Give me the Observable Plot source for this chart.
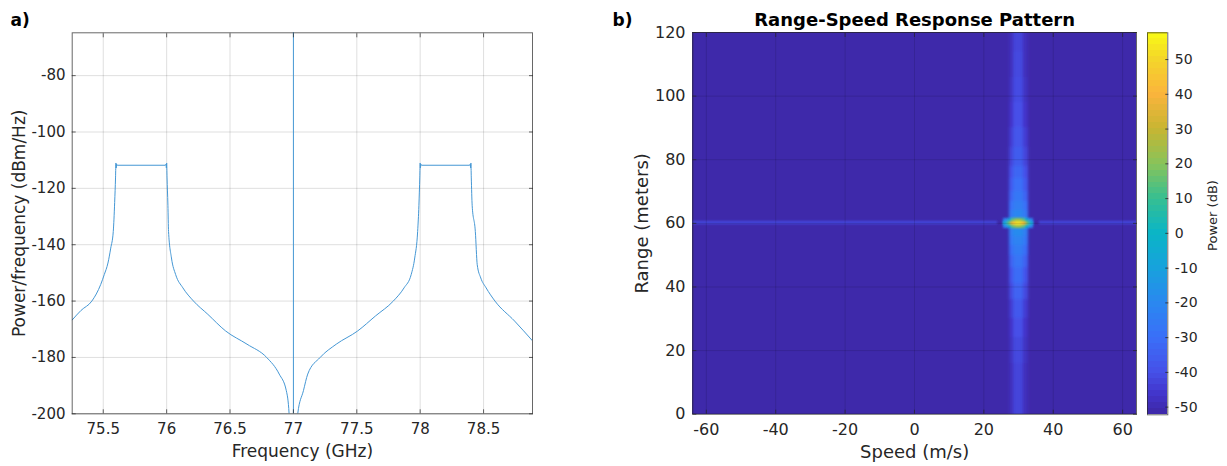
<!DOCTYPE html>
<html>
<head>
<meta charset="utf-8">
<script src="https://cdn.jsdelivr.net/npm/d3@7"></script>
<script src="https://cdn.jsdelivr.net/npm/@observablehq/plot@0.6"></script>
<style>
  html, body { margin: 0; padding: 0; background: #fff; }
  #wrap { position: relative; width: 1227px; height: 466px; overflow: hidden; }
  #wrap svg { position: absolute; top: 0; }
</style>
</head>
<body>
<div id="wrap"></div>
<script>
// ---------- Panel a) power spectral density ----------
const freqGHz = [
  75.255, 75.325, 75.41, 75.48, 75.508, 75.537, 75.559, 75.579, 75.59, 75.597,
  75.6, 75.602, 75.605, 75.61, 75.99, 75.995, 75.998, 76.0, 76.003, 76.01,
  76.015, 76.038, 76.071, 76.128, 76.212, 76.325, 76.465, 76.634, 76.789, 76.888,
  76.944, 76.966, 76.985, 77.015, 77.034, 77.079, 77.113,
  77.211, 77.338, 77.507, 77.647, 77.788, 77.873, 77.929, 77.957, 77.98, 77.99,
  77.997, 78.0, 78.002, 78.005, 78.01, 78.39, 78.395, 78.398, 78.4, 78.403,
  78.41, 78.435, 78.45, 78.478, 78.52, 78.59, 78.745, 78.886
];
const psdDbmHz = [
  -166.7, -163.3, -160, -154.1, -150.6, -146.5, -141.2, -135.3, -125, -116,
  -111.0, -112.8, -111.4, -111.8, -111.8, -111.4, -112.8, -111.0, -116, -126,
  -135.3, -144.7, -150.6, -155.3, -160, -164.7, -170.6, -175.3, -180, -185.9,
  -191.8, -200, -230, -230, -200, -191.8, -185.9,
  -180, -175.3, -170.6, -165.3, -160, -155.3, -150.6, -144.7, -135.3, -126,
  -116, -111.0, -112.8, -111.4, -111.8, -111.8, -111.4, -112.8, -111.0, -116,
  -126, -135.3, -147.1, -151.8, -155.3, -160, -167.1, -174.1
];
// carrier line at 77 GHz (rises above the top of the axes)
const carrierFreqGHz = [77, 77];
const carrierDbmHz = [-230, -40];

const freqDomain = [75.255, 78.886];
const psdDomain = [-200, -64.8];
const freqTicks = [75.5, 76, 76.5, 77, 77.5, 78, 78.5];
const psdTicks = [-200, -180, -160, -140, -120, -100, -80];

// ---------- Panel b) range-speed map ----------
const speedDomain = [-63.9, 64];
const rangeDomain = [0, 120];
const speedTicks = [-60, -40, -20, 0, 20, 40, 60];
const rangeTicks = [0, 20, 40, 60, 80, 100, 120];
const backgroundPower = -51.5;

// vertical stripe of the moving target (speed ~30 m/s)
const stripeCoreSpeed = [28.6, 31.5];
const stripeEdgeSpeed = [27.3, 32.8];
const stripeRangeLo = [0, 8, 16, 24, 30, 36, 41, 46, 50, 53, 56, 58.6, 61.4, 64, 67, 70, 74, 78, 84, 90, 98, 106, 114];
const stripeRangeHi = [8, 16, 24, 30, 36, 41, 46, 50, 53, 56, 58.6, 61.4, 64, 67, 70, 74, 78, 84, 90, 98, 106, 114, 120];
const stripeCorePower = [-43, -43, -42, -40, -37, -34, -31, -28, -25, -22, -19, -16, -21, -24, -27, -30, -33, -36, -38, -40, -41, -42, -43];
const stripeEdgePower = [-49, -49, -48, -47, -45, -42, -39, -35, -31, -27, -24, -21, -26, -30, -34, -37, -40, -43, -45, -47, -48, -49, -49];

// horizontal line at the target range (60 m)
const lineRange = [59.55, 60.45];
const lineSpeedLo = [-63.9, 36.1];
const lineSpeedHi = [23.9, 64];
const linePower = [-42, -42];

// bright target response
const hotSpeedLo = [25.8, 26.8, 27.6, 28.4, 29.2, 30.8, 31.6, 32.4, 33.2];
const hotSpeedHi = [26.8, 27.6, 28.4, 29.2, 30.8, 31.6, 32.4, 33.2, 34.2];
const hotCenterRange = [59.3, 60.7];
const hotCenterPower = [-6, 14, 32, 44, 52, 44, 32, 14, -6];
const hotSideRange = [58.4, 61.6];
const hotSidePower = [-22, -10, 4, 16, 22, 16, 4, -10, -22];

// colour bar (parula-like)
const colorDomain = [-52.2, -47, -40, -30, -20, -10, 0, 10, 20, 30, 40, 50, 57.7];
const colorRange = ["#3D27A5", "#4233C8", "#4650E8", "#3A6FF8", "#2A88F0", "#17A2DC", "#0AB5C6", "#38BF90", "#88C35A", "#C7B532", "#FBB43C", "#F4D62A", "#F9FB15"];
const colorTicks = [-50, -40, -30, -20, -10, 0, 10, 20, 30, 40, 50];

// ---------------------------------------------------------
const FONT = "DejaVu Sans, Verdana, sans-serif";
const INK = "#262626";
const LINE = "#4597D4";
const fmt = d => String(d);
const blank = () => "";

const psdData = freqGHz.map((f, i) => ({f, p: psdDbmHz[i]}));
const carrierData = carrierFreqGHz.map((f, i) => ({f, p: carrierDbmHz[i]}));
// the grid line at the carrier is hidden behind the carrier itself
const freqGrid = freqTicks.filter(t => !carrierFreqGHz.includes(t));

const left = Plot.plot({
  width: 560, height: 466,
  marginLeft: 71.7, marginRight: 28, marginTop: 32.3, marginBottom: 52.7,
  style: {fontFamily: FONT, fontSize: "15px", color: INK, background: "transparent"},
  x: {domain: freqDomain},
  y: {domain: psdDomain},
  marks: [
    Plot.gridX(freqGrid, {stroke: INK, strokeOpacity: 0.15}),
    Plot.gridY(psdTicks, {stroke: INK, strokeOpacity: 0.15}),
    Plot.line(psdData, {x: "f", y: "p", stroke: LINE, strokeWidth: 1, curve: "monotone-x", clip: true}),
    Plot.line(carrierData, {x: "f", y: "p", stroke: LINE, strokeWidth: 1, clip: true}),
    Plot.frame({stroke: INK, strokeOpacity: 0.7}),
    Plot.axisX(freqTicks, {anchor: "bottom", tickSize: -4, tickPadding: 14, tickFormat: fmt, label: null, strokeOpacity: 0.7}),
    Plot.axisX(freqTicks, {anchor: "top", tickSize: -4, tickFormat: blank, label: null, strokeOpacity: 0.7}),
    Plot.axisY(psdTicks, {anchor: "left", tickSize: -4, tickPadding: 10.7, tickFormat: fmt, label: null, strokeOpacity: 0.7}),
    Plot.axisY(psdTicks, {anchor: "right", tickSize: -4, tickFormat: blank, label: null, strokeOpacity: 0.7}),
    Plot.text(["Frequency (GHz)"], {text: d => d, frameAnchor: "bottom", dy: 43.4, lineAnchor: "bottom", textAnchor: "middle", fontSize: 17}),
    Plot.text(["Power/frequency (dBm/Hz)"], {text: d => d, frameAnchor: "left", dx: -46.7, rotate: -90, lineAnchor: "bottom", textAnchor: "middle", fontSize: 17}),
    Plot.text(["a)"], {text: d => d, frameAnchor: "top-left", dx: 10 - 71.7, dy: 25 - 32.3, textAnchor: "start", lineAnchor: "bottom", fontSize: 17, fontWeight: "bold", fill: "#000"})
  ]
});
left.style.left = "0px";

const colorScale = {type: "linear", domain: colorDomain, range: colorRange, interpolate: "rgb", clamp: true};

// cells touching the edge of the map are run past it, so the smoothing does not fade them there
const PAD = 8;
const padLo = (v, dom) => (v <= dom[0] ? v - PAD : v);
const padHi = (v, dom) => (v >= dom[1] ? v + PAD : v);

const bgCells = [{x1: speedDomain[0], x2: speedDomain[1], y1: rangeDomain[0], y2: rangeDomain[1], v: backgroundPower}];
const edgeCells = stripeRangeLo.map((lo, i) => ({x1: stripeEdgeSpeed[0], x2: stripeEdgeSpeed[1], y1: padLo(lo, rangeDomain), y2: padHi(stripeRangeHi[i], rangeDomain), v: stripeEdgePower[i]}));
const coreCells = stripeRangeLo.map((lo, i) => ({x1: stripeCoreSpeed[0], x2: stripeCoreSpeed[1], y1: padLo(lo, rangeDomain), y2: padHi(stripeRangeHi[i], rangeDomain), v: stripeCorePower[i]}));
const lineCells = lineSpeedLo.map((lo, i) => ({x1: padLo(lo, speedDomain), x2: padHi(lineSpeedHi[i], speedDomain), y1: lineRange[0], y2: lineRange[1], v: linePower[i]}));
const hotSideCells = hotSpeedLo.map((lo, i) => ({x1: lo, x2: hotSpeedHi[i], y1: hotSideRange[0], y2: hotSideRange[1], v: hotSidePower[i]}));
const hotCenterCells = hotSpeedLo.map((lo, i) => ({x1: lo, x2: hotSpeedHi[i], y1: hotCenterRange[0], y2: hotCenterRange[1], v: hotCenterPower[i]}));
const cellOpts = {x1: "x1", x2: "x2", y1: "y1", y2: "y2", fill: "v", shapeRendering: "crispEdges"};

const MAP_W = 667, MAP_L = 132.3, MAP_R = 91, MAP_T = 32, MAP_B = 52.3;
const map = Plot.plot({
  width: MAP_W, height: 466,
  marginLeft: MAP_L, marginRight: MAP_R, marginTop: MAP_T, marginBottom: MAP_B,
  style: {fontFamily: FONT, fontSize: "16px", color: INK, background: "transparent"},
  x: {domain: speedDomain},
  y: {domain: rangeDomain},
  color: colorScale,
  marks: [
    Plot.rect(bgCells, cellOpts),
    Plot.rect(edgeCells, cellOpts),
    Plot.rect(coreCells, cellOpts),
    Plot.rect(lineCells, cellOpts),
    Plot.rect(hotSideCells, cellOpts),
    Plot.rect(hotCenterCells, cellOpts),
    Plot.gridX(speedTicks, {stroke: "#000", strokeOpacity: 0.12}),
    Plot.gridY(rangeTicks, {stroke: "#000", strokeOpacity: 0.12}),
    Plot.frame({stroke: INK, strokeOpacity: 0.7}),
    Plot.axisX(speedTicks, {anchor: "bottom", tickSize: -4, tickPadding: 13.3, tickFormat: fmt, label: null, strokeOpacity: 0.7}),
    Plot.axisX(speedTicks, {anchor: "top", tickSize: -4, tickFormat: blank, label: null, strokeOpacity: 0.7}),
    Plot.axisY(rangeTicks, {anchor: "left", tickSize: -4, tickPadding: 11.3, tickFormat: fmt, label: null, strokeOpacity: 0.7}),
    Plot.axisY(rangeTicks, {anchor: "right", tickSize: -4, tickFormat: blank, label: null, strokeOpacity: 0.7}),
    Plot.text(["Speed (m/s)"], {text: d => d, frameAnchor: "bottom", dy: 43.3, lineAnchor: "bottom", textAnchor: "middle", fontSize: 18}),
    Plot.text(["Range (meters)"], {text: d => d, frameAnchor: "left", dx: -44.8, rotate: -90, lineAnchor: "bottom", textAnchor: "middle", fontSize: 18}),
    Plot.text(["Range-Speed Response Pattern"], {text: d => d, frameAnchor: "top", dy: -7, lineAnchor: "bottom", textAnchor: "middle", fontSize: 18, fontWeight: "bold", fill: "#000"}),
    Plot.text(["b)"], {text: d => d, frameAnchor: "top-left", dx: 52 - 132.3, dy: 25 - 32, textAnchor: "start", lineAnchor: "bottom", fontSize: 17, fontWeight: "bold", fill: "#000"})
  ]
});
map.style.left = "560px";

// soften the target response like the smoothed image in the reference (output limited to the map frame)
(function soften(svg) {
  const ns = "http://www.w3.org/2000/svg";
  const defs = document.createElementNS(ns, "defs");
  [["softwide", 1.5], ["softthin", 0.8]].forEach(([id, sd]) => {
    const f = document.createElementNS(ns, "filter");
    f.setAttribute("id", id);
    f.setAttribute("filterUnits", "userSpaceOnUse");
    f.setAttribute("x", MAP_L); f.setAttribute("y", MAP_T);
    f.setAttribute("width", MAP_W - MAP_L - MAP_R); f.setAttribute("height", 466 - MAP_T - MAP_B);
    const b = document.createElementNS(ns, "feGaussianBlur");
    b.setAttribute("stdDeviation", sd);
    f.appendChild(b);
    defs.appendChild(f);
  });
  svg.insertBefore(defs, svg.firstChild);
  const groups = svg.querySelectorAll('g[aria-label="rect"]');
  // order: background, stripe edge, stripe core, range line, hot side, hot centre
  groups.forEach((g, i) => {
    if (i === 1 || i === 2) g.setAttribute("filter", "url(#softwide)");
    else if (i >= 3) g.setAttribute("filter", "url(#softthin)");
  });
})(map);

// colour bar: 64 discrete bands like the reference colormap
const cbMin = colorDomain[0], cbMax = colorDomain[colorDomain.length - 1];
const cbStep = (cbMax - cbMin) / 64;
const cbBands = d3.range(64).map(i => ({y1: cbMin + i * cbStep, y2: cbMin + (i + 1) * cbStep, v: cbMin + (i + 0.5) * cbStep}));

const bar = Plot.plot({
  width: 87, height: 466,
  marginLeft: 7, marginRight: 59.7, marginTop: 32.3, marginBottom: 51.7,
  style: {fontFamily: FONT, fontSize: "14px", color: INK, background: "transparent"},
  x: {domain: [0, 1], axis: null},
  y: {domain: [cbMin, cbMax]},
  color: colorScale,
  marks: [
    Plot.rect(cbBands, {x1: 0, x2: 1, y1: "y1", y2: "y2", fill: "v", shapeRendering: "crispEdges"}),
    Plot.frame({stroke: INK, strokeOpacity: 0.7}),
    Plot.axisY(colorTicks, {anchor: "right", tickSize: -3, tickPadding: 10, tickFormat: fmt, label: null, strokeOpacity: 0.8}),
    Plot.text(["Power (dB)"], {text: d => d, frameAnchor: "right", dx: 49.2, dy: -8.3, rotate: -90, lineAnchor: "bottom", textAnchor: "middle", fontSize: 13})
  ]
});
bar.style.left = "1140px";

const wrap = document.getElementById("wrap");
wrap.appendChild(left);
wrap.appendChild(map);
wrap.appendChild(bar);
</script>
</body>
</html>
